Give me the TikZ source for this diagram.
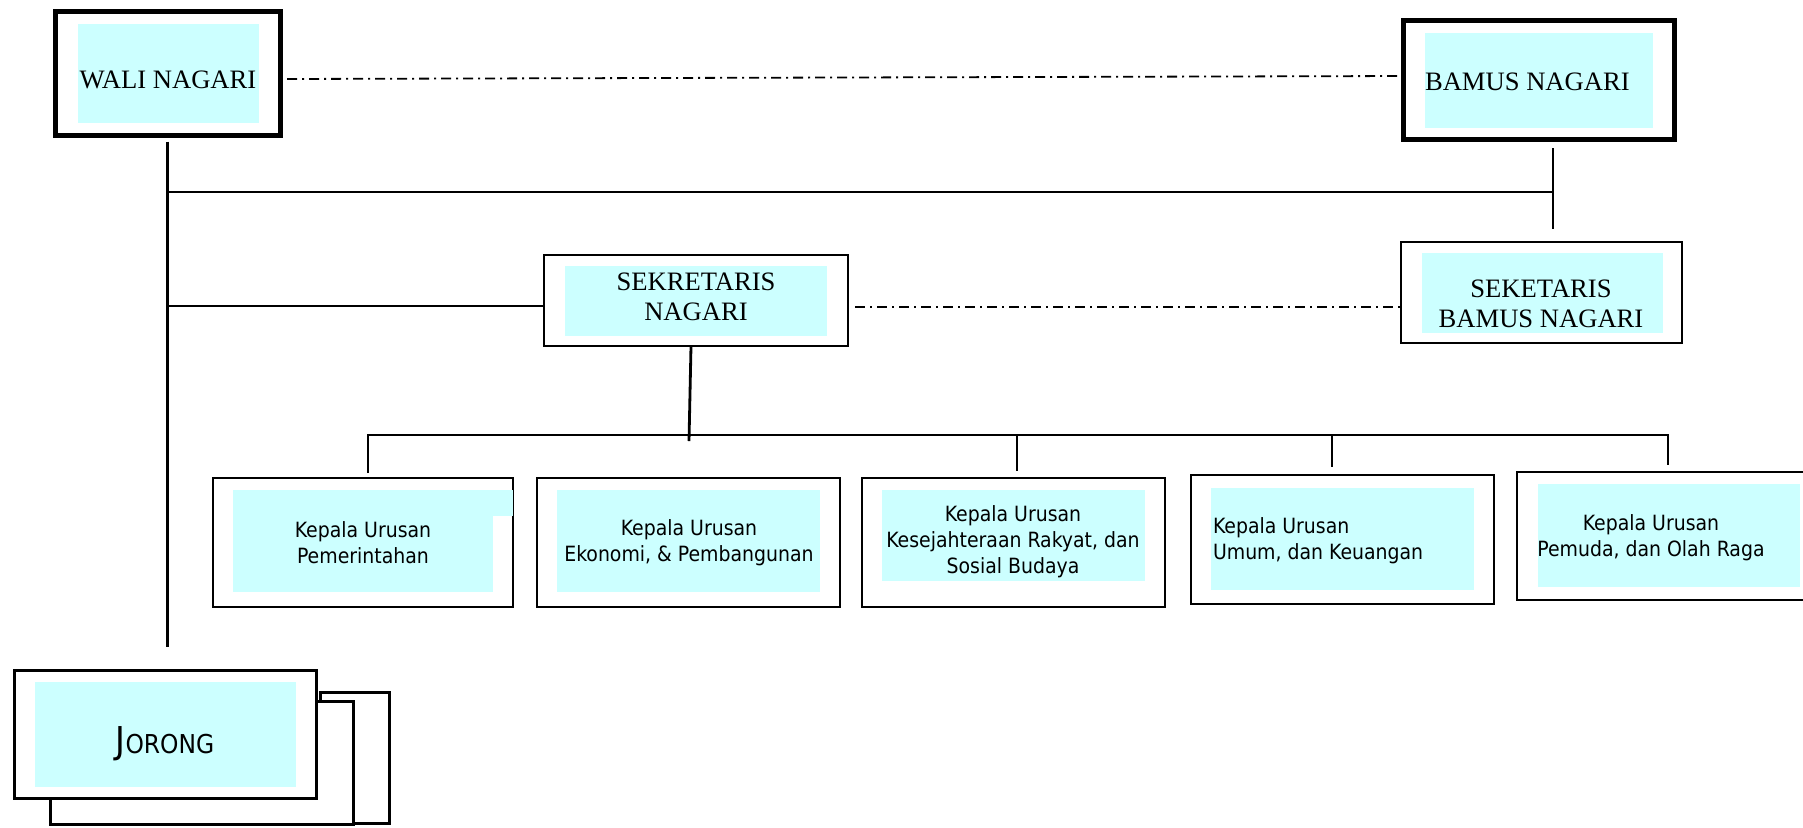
\documentclass[tikz,border=0pt]{standalone}
\usepackage{fontspec}
\setmainfont{Liberation Serif}
\newfontfamily\kaurfont{DejaVu Sans Condensed}
\usetikzlibrary{fit}
\definecolor{skyfill}{HTML}{CCFFFF}

\begin{document}
\begin{tikzpicture}[
  x=0.5pt, y=-0.5pt,
  every node/.style={inner sep=0pt, outer sep=0pt},
  thinbox/.style={draw, line width=1pt},
  thickbox/.style={draw, line width=2.5pt},
  stackbox/.style={draw, line width=1.5pt, fill=white},
  cyanbg/.style={fill=skyfill},
  head/.style={font=\fontsize{13.3}{15}\selectfont, align=center},
  kaur/.style={font=\kaurfont\fontsize{10.5}{13}\selectfont, align=center},
  link/.style={line width=1.4pt},
  dashdot/.style={line width=0.9pt, dash pattern=on 5pt off 2.5pt on 1pt off 2.5pt}
]
\useasboundingbox (0,0) rectangle (1803,827);

% top level
\node[thickbox, fit={(55.5,11.5) (280,135.5)}] (wali) {};
\node[cyanbg, fit={(78,24) (259,123)}] (waliBg) {};
\node[head, anchor=base] (waliT) at (168,88) {WALI NAGARI};

\node[thickbox, fit={(1403,20.5) (1674.5,139.5)}] (bamus) {};
\node[cyanbg, fit={(1425,33) (1653,128)}] (bamusBg) {};
\node[head, anchor=base west] (bamusT) at (1425,90) {BAMUS NAGARI};

% secretaries
\node[thinbox, fit={(544,255) (848,346)}] (sek) {};
\node[cyanbg, fit={(565,266) (827,336)}] (sekBg) {};
\node[head] (sekT) at (696,297) {SEKRETARIS\\NAGARI};

\node[thinbox, fit={(1401,242) (1682,343)}] (sekbm) {};
\node[cyanbg, fit={(1422,253) (1663,333)}] (sekbmBg) {};
\node[head] (sekbmT) at (1541,304) {SEKETARIS\\BAMUS NAGARI};

% kepala urusan
\node[thinbox, fit={(213,478) (513,607)}] (k1) {};
\node[cyanbg, fit={(233,490) (493,592)}] (k1Bg) {};
\node[cyanbg, fit={(493,490) (513,516)}] (k1Bx) {};
\node[kaur] (k1T) at (363,543) {Kepala Urusan\\Pemerintahan};

\node[thinbox, fit={(537,478) (840,607)}] (k2) {};
\node[cyanbg, fit={(557,490) (820,592)}] (k2Bg) {};
\node[kaur] (k2T) at (689,543) {Kepala Urusan\\Ekonomi, \& Pembangunan};

\node[thinbox, fit={(862,478) (1165,607)}] (k3) {};
\node[cyanbg, fit={(882,490) (1145,581)}] (k3Bg) {};
\node[kaur] (k3T) at (1013,542) {Kepala Urusan\\Kesejahteraan Rakyat, dan\\Sosial Budaya};

\node[thinbox, fit={(1191,475) (1494,604)}] (k4) {};
\node[cyanbg, fit={(1211,488) (1474,590)}] (k4Bg) {};
\node[kaur, align=left, anchor=west] (k4T) at (1213,541) {Kepala Urusan\\Umum, dan Keuangan};

\node[thinbox, fit={(1517,472) (1805,600)}] (k5) {};
\node[cyanbg, fit={(1538,484) (1800,587)}] (k5Bg) {};
\node[kaur] (k5T) at (1651,538) {Kepala Urusan\\Pemuda, dan Olah Raga};

% jorong (stacked)
\node[stackbox, fit={(320,692) (389,823)}] (jorC) {};
\node[stackbox, fit={(50,701) (353,824)}] (jorB) {};
\node[stackbox, fit={(14,670) (316,798)}] (jorong) {};
\node[cyanbg, fit={(35,682) (296,787)}] (jorongBg) {};
\node[font=\kaurfont] (jorongT) at (165,744) {\fontsize{18.5}{19}\selectfont J\fontsize{13}{19}\selectfont ORONG};

% connectors
\coordinate (wTee) at (168,192);
\coordinate (bTee) at (1553,192);
\coordinate (busL) at (368,435);
\coordinate (busR) at (1668,435);
\draw[dashdot, shorten <=3.5pt] (wali.east |- 0,79) -- (bamus.west |- 0,76);
\draw[link] ([yshift=-3pt]wali.south) -- (wali.south |- 0,647);
\draw[link] (wTee) -- (bTee);
\draw[link] (bTee |- 0,148) -- (bTee |- 0,229);
\draw[link] (wTee |- 0,306) -- (sek.west |- 0,306);
\draw[dashdot, shorten <=3.5pt] (sek.east |- 0,307) -- (sekbm.west |- 0,307);
\draw[link] (691,346) -- (689,441);
\draw[link, shorten <=2.5pt, shorten >=3.5pt] (k1.north -| busL) -- (busL) -- (busR) -- (k5.north -| busR);
\draw[link, shorten >=3.5pt] (busL -| 1017,0) -- (k3.north -| 1017,0);
\draw[link, shorten >=4pt] (busL -| 1332,0) -- (k4.north -| 1332,0);
\end{tikzpicture}
\end{document}
